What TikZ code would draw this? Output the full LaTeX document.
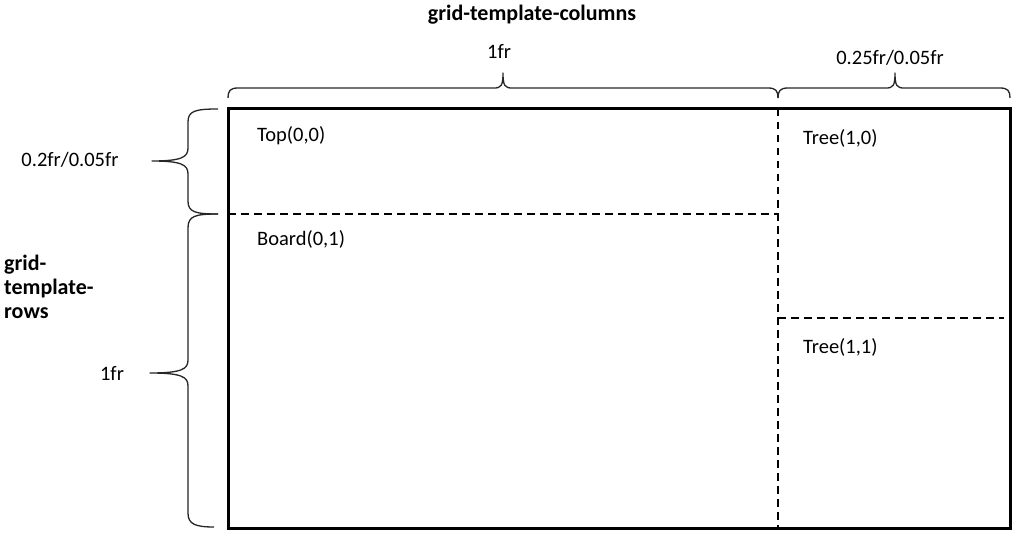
\documentclass[tikz,border=0pt]{standalone}
\usepackage{fontspec}
\setmainfont{Carlito}
\begin{document}
\begin{tikzpicture}[x=1pt,y=-1pt,
  lbl/.style={inner sep=0pt, font=\fontsize{20.5}{24}\selectfont},
  ttl/.style={inner sep=0pt, font=\bfseries\fontsize{22}{26}\selectfont},
  frame/.style={line width=3pt},
  divider/.style={line width=2pt, dash pattern=on 7.5pt off 5.5pt},
  bracepath/.style={line width=1.3pt, draw=black!85, line join=round}]
\useasboundingbox (0,0) rectangle (1022,540);
\fill[white] (0,0) rectangle (1022,540);
% grid frame
\coordinate (tl) at (228,109);
\coordinate (br) at (1010,528);
\draw[frame] (tl) rectangle (br);
\coordinate (vtop) at (778,109);
\coordinate (vbot) at (778,528);
\coordinate (h1a) at (228,214);
\coordinate (h1b) at (778,214);
\coordinate (h2a) at (778,318);
\coordinate (h2b) at (1004,318);
\draw[divider] (vtop) -- (vbot);
\draw[divider] (h1a) -- (h1b);
\draw[divider] (h2a) -- (h2b);
% top braces
\draw[bracepath] (228,98) .. controls (228,91) and (230,88) .. (238,88)
  -- (494,88) .. controls (501,88) and (503,86) .. (503,73)
  .. controls (503,86) and (505,88) .. (512,88)
  -- (768,88) .. controls (776,88) and (778,91) .. (778,98);
\draw[bracepath] (778,98) .. controls (778,91) and (780,88) .. (788,88)
  -- (886,88) .. controls (893,88) and (895,86) .. (895,73)
  .. controls (895,86) and (897,88) .. (904,88)
  -- (1000,88) .. controls (1008,88) and (1010,91) .. (1010,98);
% left braces
\draw[bracepath] (218,109) .. controls (195,109) and (188,111) .. (188,122)
  -- (188,148) .. controls (188,157) and (182,161) .. (152,161)
  .. controls (182,161) and (188,165) .. (188,174)
  -- (188,201) .. controls (188,212) and (195,214) .. (218,214);
\draw[bracepath] (218,214) .. controls (195,214) and (188,216) .. (188,228)
  -- (188,360) .. controls (188,369) and (182,373) .. (150,373)
  .. controls (182,373) and (188,377) .. (188,386)
  -- (188,513) .. controls (188,524) and (195,527) .. (214,527);
% texts
\node[ttl, anchor=base] (coltitle) at (532,21) {grid-template-columns};
\node[lbl, anchor=base] (c1) at (499,59) {1fr};
\node[lbl, anchor=base] (c2) at (890,65) {0.25fr/0.05fr};
\node[lbl, anchor=base] (r1) at (70,167) {0.2fr/0.05fr};
\node[lbl, anchor=base] (r2) at (112,380) {1fr};
\node[ttl, anchor=base west] (rt1) at (4,270) {grid-};
\node[ttl, anchor=base west] (rt2) at (4,294) {template-};
\node[ttl, anchor=base west] (rt3) at (4,318) {rows};
\node[lbl, anchor=base west] (top) at (257,142) {Top(0,0)};
\node[lbl, anchor=base west] (board) at (257,245) {Board(0,1)};
\node[lbl, anchor=base west] (tree0) at (803,145) {Tree(1,0)};
\node[lbl, anchor=base west] (tree1) at (803,353) {Tree(1,1)};
\end{tikzpicture}
\end{document}
